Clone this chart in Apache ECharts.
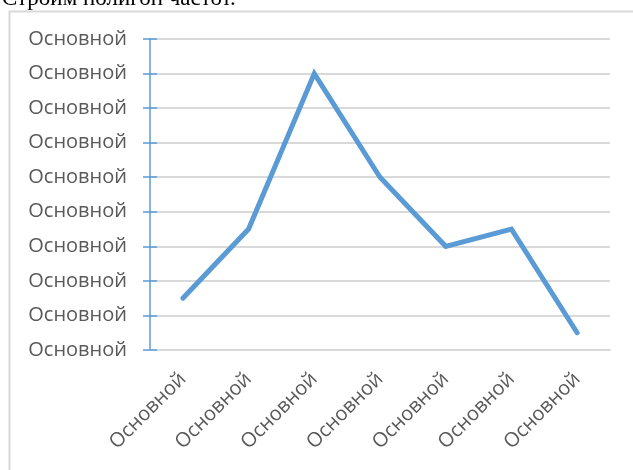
<!DOCTYPE html>
<html><head><meta charset="utf-8">
<script src="https://cdn.jsdelivr.net/npm/echarts@6/dist/echarts.min.js"></script>
<style>html,body{margin:0;padding:0;background:#fff;}#c{width:633px;height:470px;}</style>
</head><body><div id="c"></div>
<script>
const categories = ['Основной','Основной','Основной','Основной','Основной','Основной','Основной'];
const values = [1.5, 3.5, 8, 5, 3, 3.5, 0.5];
const yTickLabels = ['Основной','Основной','Основной','Основной','Основной','Основной','Основной','Основной','Основной','Основной'];
const headingText = 'Строим полигон частот.';

const chart = echarts.init(document.getElementById('c'), null, {renderer:'canvas'});
const labelFont = {fontFamily:'"Open Sans"', fontSize:20, color:'#595959'};
chart.setOption({
  animation:false,
  backgroundColor:'#fff',
  grid:{left:150, right:23, top:39, bottom:120, containLabel:false},
  graphic:[
    {type:'rect', shape:{x:9.5,y:11.5,width:700,height:500}, style:{fill:'none', stroke:'#D9D9D9', lineWidth:2}},
    {type:'text', left:2, top:-13, style:{text:headingText, font:'23px "Liberation Serif"', fill:'#000'}}
  ],
  xAxis:{
    type:'category', data:categories, boundaryGap:true,
    axisLine:{show:true, lineStyle:{color:'#D9D9D9', width:2}},
    axisTick:{show:false},
    axisLabel:Object.assign({rotate:45, margin:26, interval:0}, labelFont),
    splitLine:{show:false}
  },
  yAxis:[{
    type:'value', min:0, max:9, interval:1,
    axisLine:{show:true, lineStyle:{color:'#5B9BD5', width:1.5}},
    axisTick:{show:true, length:7, lineStyle:{color:'#5B9BD5', width:1.5}},
    axisLabel:Object.assign({margin:23, formatter:(v)=>yTickLabels[Math.round(v)]}, labelFont),
    splitLine:{show:true, lineStyle:{color:'#D9D9D9', width:2}}
  },{
    type:'value', min:0, max:9, interval:1, position:'right', offset:-460,
    axisLine:{show:false},
    axisTick:{show:true, length:7, lineStyle:{color:'#5B9BD5', width:1.5}},
    axisLabel:{show:false},
    splitLine:{show:false}
  }],
  series:[{
    type:'line', data:values, yAxisIndex:0, symbol:'none',
    lineStyle:{color:'#5B9BD5', width:5, cap:'round', join:'miter'}
  }]
});
</script></body></html>
